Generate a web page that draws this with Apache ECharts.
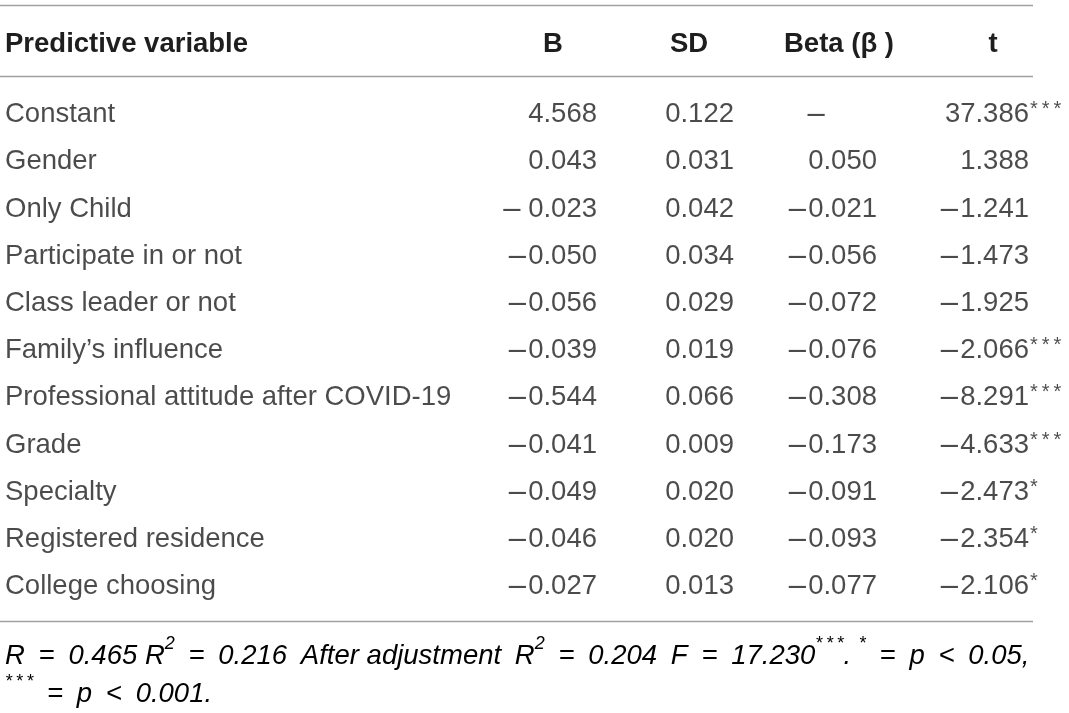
<!DOCTYPE html>
<html>
<head>
<meta charset="utf-8">
<script src="https://cdn.jsdelivr.net/npm/echarts@6/dist/echarts.min.js"></script>
<style>
html,body{margin:0;padding:0;background:#fff;}
#chart{width:1069px;height:713px;}
</style>
</head>
<body>
<div id="chart"></div>
<script>
const headers = ['Predictive variable', 'B', 'SD', 'Beta (\u03b2 )', 't'];
const rows = ['Constant', 'Gender', 'Only Child', 'Participate in or not', 'Class leader or not',
  'Family\u2019s influence', 'Professional attitude after COVID-19', 'Grade', 'Specialty',
  'Registered residence', 'College choosing'];
const bValues = [4.568, 0.043, -0.023, -0.050, -0.056, -0.039, -0.544, -0.041, -0.049, -0.046, -0.027];
const sdValues = [0.122, 0.031, 0.042, 0.034, 0.029, 0.019, 0.066, 0.009, 0.020, 0.020, 0.013];
const betaValues = [null, 0.050, -0.021, -0.056, -0.072, -0.076, -0.308, -0.173, -0.091, -0.093, -0.077];
const tValues = [37.386, 1.388, -1.241, -1.473, -1.925, -2.066, -8.291, -4.633, -2.473, -2.354, -2.106];
const tStars = ['***', '', '', '', '', '***', '***', '***', '*', '*', '*'];
const spacedMinus = { b: [2] };   // cells printed as "– 0.023" in the source

const FONT = '"Liberation Sans", Arial, Helvetica, sans-serif';
const TXT = '#1e1e1e';
const FS = 27.5;
const W = 1069;

// column anchors (right edges for numeric columns)
const col = { label: 5, b: 597, sd: 734, beta: 877, betaMid: 816, t: 1029 };
const headX = [5, 553, 689, 839, 993];

const DASH = '{d|\u2013}';
function fmt(v, spaced) {
  if (v === null) return DASH;
  const s = Math.abs(v).toFixed(3);
  return v < 0 ? DASH + (spaced ? ' ' : '\u200a') + s : s;
}
function starText(s) {
  return s.split('').join('\u2009');
}

function textSeries(data, position, labelExtra) {
  return {
    type: 'scatter',
    symbolSize: 0,
    silent: true,
    data: data,
    label: Object.assign({
      show: true,
      position: position,
      distance: 0,
      formatter: p => p.data[2],
      fontFamily: FONT,
      fontSize: FS,
      color: TXT,
      rich: {
        d: { fontFamily: FONT, fontSize: 31, color: TXT, verticalAlign: 'middle' }
      }
    }, labelExtra || {})
  };
}

const labelData = rows.map((r, i) => [col.label, i, r]);
const bData = bValues.map((v, i) => [col.b, i, fmt(v, spacedMinus.b.includes(i))]);
const sdData = sdValues.map((v, i) => [col.sd, i, fmt(v)]);
const betaData = betaValues.map((v, i) => v === null ? null : [col.beta, i, fmt(v)]).filter(d => d);
const betaDash = betaValues.map((v, i) => v === null ? [col.betaMid, i, fmt(v)] : null).filter(d => d);
const tData = tValues.map((v, i) => [col.t, i, fmt(v)]);
const starData = tStars.map((s, i) => [col.t, i, starText(s)]).filter(d => d[2]);

const chart = echarts.init(document.getElementById('chart'), null, { renderer: 'canvas' });

const rowTop = 91, rowH = 47.2;
const lineStyle = { stroke: '#a0a0a0', lineWidth: 1.5 };
const lineX2 = 1033;

const graphics = [
  { type: 'line', shape: { x1: 0, y1: 5.5, x2: lineX2, y2: 5.5 }, style: lineStyle },
  { type: 'line', shape: { x1: 0, y1: 76.5, x2: lineX2, y2: 76.5 }, style: lineStyle },
  { type: 'line', shape: { x1: 0, y1: 621.5, x2: lineX2, y2: 621.5 }, style: lineStyle }
];
headers.forEach((h, i) => {
  graphics.push({
    type: 'text', x: headX[i], y: 44,
    style: {
      text: h, fill: TXT,
      font: 'bold ' + FS + 'px ' + FONT,
      align: i === 0 ? 'left' : 'center',
      verticalAlign: 'middle'
    }
  });
});

const SP = '\u2002';
const footRich = {
  m: { fontFamily: FONT, fontStyle: 'italic', fontSize: FS, color: TXT, lineHeight: 38, verticalAlign: 'bottom' },
  s: { fontFamily: FONT, fontStyle: 'italic', fontSize: 18, color: TXT, lineHeight: 38, verticalAlign: 'top', padding: [3, 0, 0, 0] }
};
const line1 = '{m|R' + SP + '=' + SP + '0.465 R}{s|2}{m|' + SP + '=' + SP + '0.216' + SP + 'After adjustment' + SP + 'R}{s|2}{m|' + SP + '=' + SP + '0.204' + SP + 'F' + SP + '=' + SP + '17.230}{s|' + starText('***') + '}{m|. }{s|*}{m|' + SP + '=' + SP + 'p' + SP + '<' + SP + '0.05,}';
const line2 = '{s|' + starText('***') + '}{m|' + SP + '=' + SP + 'p' + SP + '<' + SP + '0.001.}';
graphics.push({
  type: 'text', x: 5, y: 632,
  style: {
    text: line1 + '\n' + line2,
    rich: footRich,
    align: 'left',
    verticalAlign: 'top'
  }
});

chart.setOption({
  animation: false,
  backgroundColor: '#ffffff',
  grid: { left: 0, right: 0, top: rowTop, height: rowH * rows.length },
  xAxis: { type: 'value', min: 0, max: W, show: false },
  yAxis: { type: 'category', data: rows, inverse: true, show: false },
  series: [
    textSeries(labelData, 'right'),
    textSeries(bData, 'left'),
    textSeries(sdData, 'left'),
    textSeries(betaData, 'left'),
    textSeries(betaDash, 'inside'),
    textSeries(tData, 'left'),
    textSeries(starData, 'right', { fontSize: 20, offset: [1, -5] })
  ],
  graphic: graphics
});
</script>
</body>
</html>
